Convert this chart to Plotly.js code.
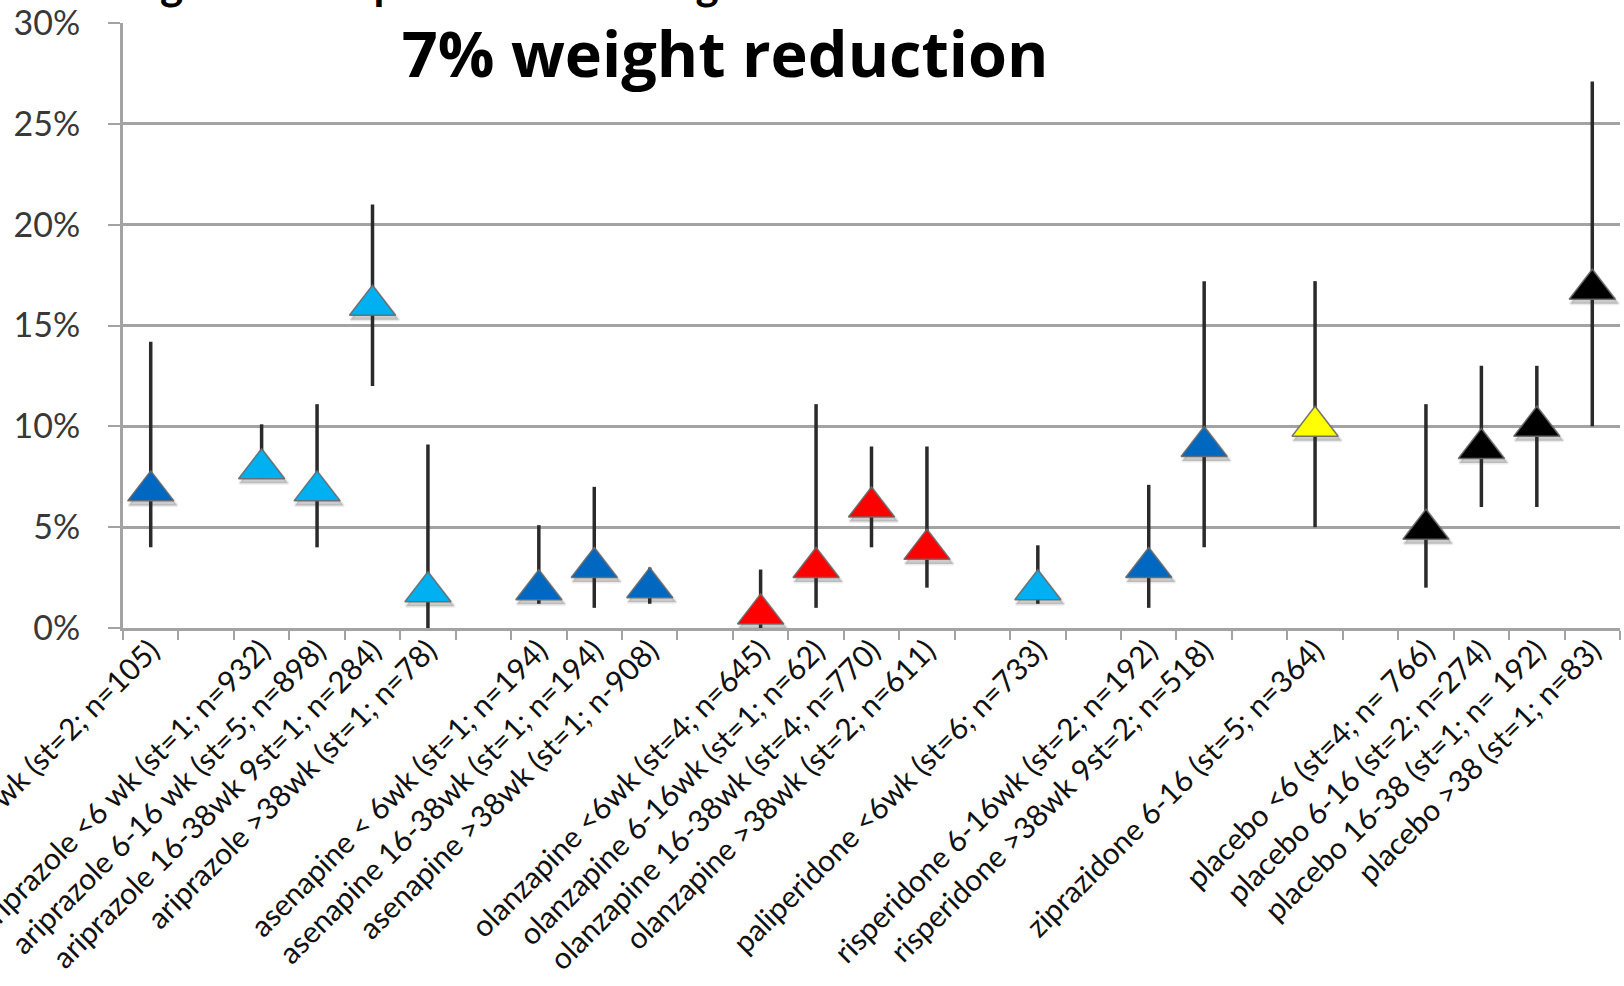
<!DOCTYPE html>
<html>
<head>
<meta charset="utf-8">
<script src="https://cdn.plot.ly/plotly-3.0.1.min.js"></script>
<style>html,body{margin:0;padding:0;background:#fff;}#chart{width:1624px;height:986px;}</style>
</head>
<body>
<div id="chart"></div>
<script>
// ---- data ----
const B = k => '\u200b'.repeat(k);   // blank spacer categories
const categories = [
  'amisulpride <6 wk (st=2; n=105)', B(1),
  'ariprazole <6 wk (st=1; n=932)', 'ariprazole 6-16 wk (st=5; n=898)',
  'ariprazole 16-38wk 9st=1; n=284)', 'ariprazole >38wk (st=1; n=78)', B(2),
  'asenapine < 6wk (st=1; n=194)', 'asenapine 16-38wk (st=1; n=194)',
  'asenapine >38wk (st=1; n-908)', B(3),
  'olanzapine <6wk (st=4; n=645)', 'olanzapine 6-16wk (st=1; n=62)',
  'olanzapine 16-38wk (st=4; n=770)', 'olanzapine >38wk (st=2; n=611)', B(4),
  'paliperidone <6wk (st=6; n=733)', B(5),
  'risperidone 6-16wk (st=2; n=192)', 'risperidone >38wk 9st=2; n=518)', B(6),
  'ziprazidone 6-16 (st=5; n=364)', B(7),
  'placebo <6 (st=4; n= 766)', 'placebo 6-16 (st=2; n=274)',
  'placebo 16-38 (st=1; n= 192)', 'placebo >38 (st=1; n=83)'
];
const labels = categories.filter(c => c.replace(/\u200b/g, '') !== '');
const drug = ['amisulpride','ariprazole','ariprazole','ariprazole','ariprazole',
  'asenapine','asenapine','asenapine',
  'olanzapine','olanzapine','olanzapine','olanzapine',
  'paliperidone','risperidone','risperidone','ziprazidone',
  'placebo','placebo','placebo','placebo'];
const value = [6.8, 7.9, 6.8, 16.0, 1.8, 1.9, 3.0, 2.0, 0.7, 3.0, 6.0, 3.9, 1.9, 3.0, 9.0, 10.0, 4.9, 8.9, 10.0, 16.8];
const upper = [14.2, 10.1, 11.1, 21.0, 9.1, 5.1, 7.0, 3.0, 2.9, 11.1, 9.0, 9.0, 4.1, 7.1, 17.2, 17.2, 11.1, 13.0, 13.0, 27.1];
const lower = [4.0, 7.4, 4.0, 12.0, 0.0, 1.2, 1.0, 1.2, 0.0, 1.0, 4.0, 2.0, 1.2, 1.0, 4.0, 5.0, 2.0, 6.0, 6.0, 10.0];
const yTicks = [0, 5, 10, 15, 20, 25, 30];

// ---- styling ----
const drugColor = {
  amisulpride:'#0068C0', ariprazole:'#00B0F0', asenapine:'#0068C0',
  olanzapine:'#FF0000', paliperidone:'#00B0F0', risperidone:'#0068C0',
  ziprazidone:'#FFFF00', placebo:'#000000'
};
const colors = drug.map(d => drugColor[d]);
const errPlus = upper.map((u, i) => u - value[i]);
const errMinus = lower.map((l, i) => value[i] - l);

const gridCol = '#a3a3a3';
const xr = [-0.5, categories.length - 0.5];
const yr = [0, 30];

const traces = [
  { // dummy so the base axis knows all categories
    type:'scatter', mode:'markers', x: categories, y: categories.map(() => null),
    xaxis:'x', yaxis:'y', hoverinfo:'skip', showlegend:false
  },
  { // soft drop shadow
    type:'scatter', mode:'markers', x: labels, y: value, xaxis:'x2', yaxis:'y2',
    marker:{symbol:'triangle-up', size:42, color:'rgba(0,0,0,0.2)',
            line:{color:'rgba(0,0,0,0.08)', width:3}},
    hoverinfo:'skip', showlegend:false, cliponaxis:false
  },
  {
    type:'scatter', mode:'markers', x: labels, y: value, xaxis:'x3', yaxis:'y3',
    marker:{symbol:'triangle-up', size:40, color: colors,
            line:{color:'rgba(105,105,105,0.9)', width:1.5}},
    error_y:{type:'data', symmetric:false, array: errPlus, arrayminus: errMinus,
             width:0, thickness:3.5, color:'#2a2a2a'},
    showlegend:false, cliponaxis:false
  }
];

const hiddenX = r => ({type:'category', categoryorder:'array', categoryarray: categories,
  range: r, overlaying:'x', visible:false, fixedrange:true});
const hiddenY = r => ({range: r, overlaying:'y', visible:false, fixedrange:true});

const layout = {
  width:1624, height:986,
  margin:{l:123, r:4, t:23, b:358, pad:0},
  paper_bgcolor:'#ffffff', plot_bgcolor:'#ffffff',
  font:{family:'Lato, "Open Sans", sans-serif', color:'#1a1a1a'},
  title:{text:'<b>7% weight reduction</b>', font:{family:'"Open Sans", sans-serif', size:63, color:'#000'},
         x:0.4465, xanchor:'center', xref:'container', y:0.944, yanchor:'middle', yref:'container'},
  xaxis:{type:'category', categoryorder:'array', categoryarray: categories, range: xr,
         tickson:'boundaries', ticks:'outside', ticklen:9, tickwidth:2, tickcolor:gridCol,
         showline:true, linecolor:gridCol, linewidth:3, showgrid:false, zeroline:false,
         tickangle:-45, automargin:false, ticklabelstandoff:-10, tickfont:{size:30, color:'#111'}},
  yaxis:{range: yr, tickmode:'array', tickvals: yTicks, ticktext: yTicks.map(v => v + '%'),
         ticks:'outside', ticklen:12, tickwidth:2, tickcolor:gridCol,
         showline:true, linecolor:gridCol, linewidth:3,
         showgrid:true, gridcolor:gridCol, gridwidth:3, zeroline:false,
         automargin:false, ticklabelstandoff:21, tickfont:{size:34, color:'#383838'}},
  xaxis2: hiddenX([xr[0] - 0.04, xr[1] - 0.04]),
  yaxis2: hiddenY([yr[0] + 0.2, yr[1] + 0.2]),
  xaxis3: hiddenX(xr),
  yaxis3: hiddenY(yr),
  annotations:[{
    text:'<b>Figure 3: Proportion with weight reduction</b>',
    xref:'paper', yref:'paper', x:(122 - 123) / 1497, xanchor:'left',
    y:1 + (23 - 11) / 605, yanchor:'bottom', showarrow:false,
    font:{family:'Lato, sans-serif', size:44, color:'#000'}
  }]
};

Plotly.newPlot('chart', traces, layout, {staticPlot:true, displayModeBar:false});
</script>
</body>
</html>
